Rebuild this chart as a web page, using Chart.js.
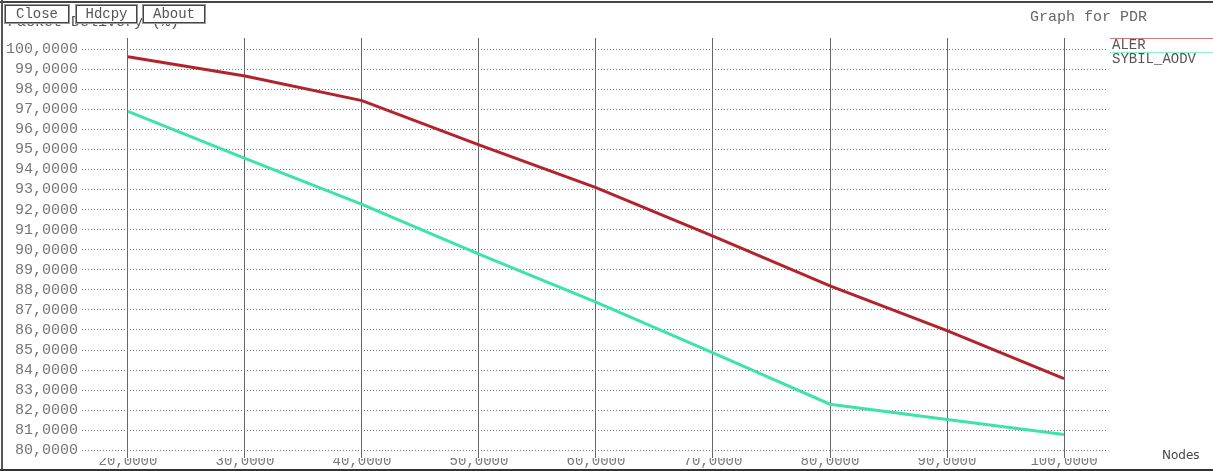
<!DOCTYPE html>
<html>
<head>
<meta charset="utf-8">
<script src="https://cdn.jsdelivr.net/npm/chart.js@4"></script>
<style>
  body { margin: 0; background: #fff; }
  #frame { position: relative; width: 1213px; height: 471px; overflow: hidden; }
  #frame:before { content: ''; position: absolute; left: 0; top: 1px; width: 1213px; height: 2px; background: #444; }
  #frame:after { content: ''; position: absolute; left: 0; top: 469px; width: 1213px; height: 2px; background: #333; }
  #edge { position: absolute; left: 1px; top: 0; width: 2px; height: 471px; background: #555; }
  canvas { position: absolute; left: 0; top: 0; }
  .txt { position: absolute; font-family: "Liberation Mono", monospace; font-size: 15px; color: #666; white-space: nowrap; }
  .btn { position: absolute; top: 5px; height: 16px; border: 1px solid #444; outline: 1px solid #999; background: #fff;
         font-family: "Liberation Mono", monospace; font-size: 14px; line-height: 16px; color: #555; text-align: center; }
</style>
</head>
<body>
<div id="frame">
  <canvas id="grafico_pdr" width="1213" height="471"></canvas>
  <div id="edge"></div>
  <div class="txt" style="left:8px; top:14px; color:#555;">Packet Delivery (%)</div>
  <div class="btn" style="left:5px; width:62px;">Close</div>
  <div class="btn" style="left:76px; width:59px;">Hdcpy</div>
  <div class="btn" style="left:143px; width:60px;">About</div>
  <div class="txt" style="left:1030px; top:9px;">Graph for PDR</div>
  <div class="txt" style="left:1162px; top:448px; font-family:'DejaVu Sans',sans-serif; font-size:12px; color:#444;">Nodes</div>
</div>
<script>
// valori
var nodi = [20, 30, 40, 50, 60, 70, 80, 90, 100];
var pdr_aler = [99.62, 98.66, 97.43, 95.22, 93.09, 90.68, 88.2, 85.97, 83.57];
var pdr_sybil = [96.89, 94.55, 92.26, 89.78, 87.39, 84.86, 82.3, 81.54, 80.79];
var tick_x = [20, 30, 40, 50, 60, 70, 80, 90, 100];
var tick_y = [80, 81, 82, 83, 84, 85, 86, 87, 88, 89, 90, 91, 92, 93, 94, 95, 96, 97, 98, 99, 100];

function punti(valori) {
  var out = [];
  for (var i = 0; i < nodi.length; i++) {
    out.push({ x: nodi[i], y: valori[i] });
  }
  return out;
}

function formato(v) {
  return v.toFixed(4).replace('.', ',');
}

// legenda stile xgraph: linea sopra il nome
var legenda = {
  id: 'legenda',
  afterDraw: function(chart) {
    var ctx = chart.ctx;
    var sets = chart.data.datasets;
    ctx.save();
    for (var i = 0; i < sets.length; i++) {
      var y = 38 + i * 14;
      ctx.strokeStyle = sets[i].borderColor;
      ctx.globalAlpha = 0.6;
      ctx.lineWidth = 1;
      ctx.beginPath();
      ctx.moveTo(1110, y + 0.5);
      ctx.lineTo(1213, y + 0.5);
      ctx.stroke();
      ctx.globalAlpha = 1;
      ctx.fillStyle = '#555';
      ctx.font = '14px "Liberation Mono", monospace';
      ctx.textBaseline = 'middle';
      ctx.fillText(sets[i].label, 1112, y + 7);
    }
    ctx.restore();
  }
};

var chart = new Chart(document.getElementById('grafico_pdr'), {
  type: 'line',
  data: {
    datasets: [{
      label: 'ALER',
      data: punti(pdr_aler),
      borderColor: '#b2232c',
      borderWidth: 3,
      pointRadius: 0,
      tension: 0,
      fill: false
    }, {
      label: 'SYBIL_AODV',
      data: punti(pdr_sybil),
      borderColor: '#3ee2ab',
      borderWidth: 3,
      pointRadius: 0,
      tension: 0,
      fill: false
    }]
  },
  options: {
    responsive: false,
    animation: false,
    layout: { padding: { top: 38, left: 0, right: 105, bottom: 0 } },
    plugins: {
      legend: { display: false },
      tooltip: { enabled: false }
    },
    scales: {
      x: {
        type: 'linear',
        min: 16.07,
        max: 103.76,
        afterBuildTicks: function(axis) {
          axis.ticks = tick_x.map(function(v) { return { value: v }; });
        },
        afterFit: function(axis) { axis.height = 11; },
        border: { display: false },
        grid: { color: '#666', lineWidth: 1, drawTicks: false },
        ticks: {
          padding: -5,
          maxRotation: 0,
          autoSkip: false,
          color: '#777',
          font: { family: '"Liberation Mono", monospace', size: 14 },
          callback: function(v) { return formato(v); }
        }
      },
      y: {
        min: 79.62,
        max: 100.55,
        afterBuildTicks: function(axis) {
          axis.ticks = tick_y.map(function(v) { return { value: v }; });
        },
        afterFit: function(axis) { axis.width = 82; },
        // tratteggio delle linee orizzontali
        border: { display: false, dash: [1, 2] },
        grid: { color: '#777', lineWidth: 1, drawTicks: false },
        ticks: {
          padding: 4,
          autoSkip: false,
          color: '#777',
          font: { family: '"Liberation Mono", monospace', size: 15 },
          callback: function(v) { return formato(v); }
        }
      }
    }
  },
  plugins: [legenda]
});
</script>
</body>
</html>
